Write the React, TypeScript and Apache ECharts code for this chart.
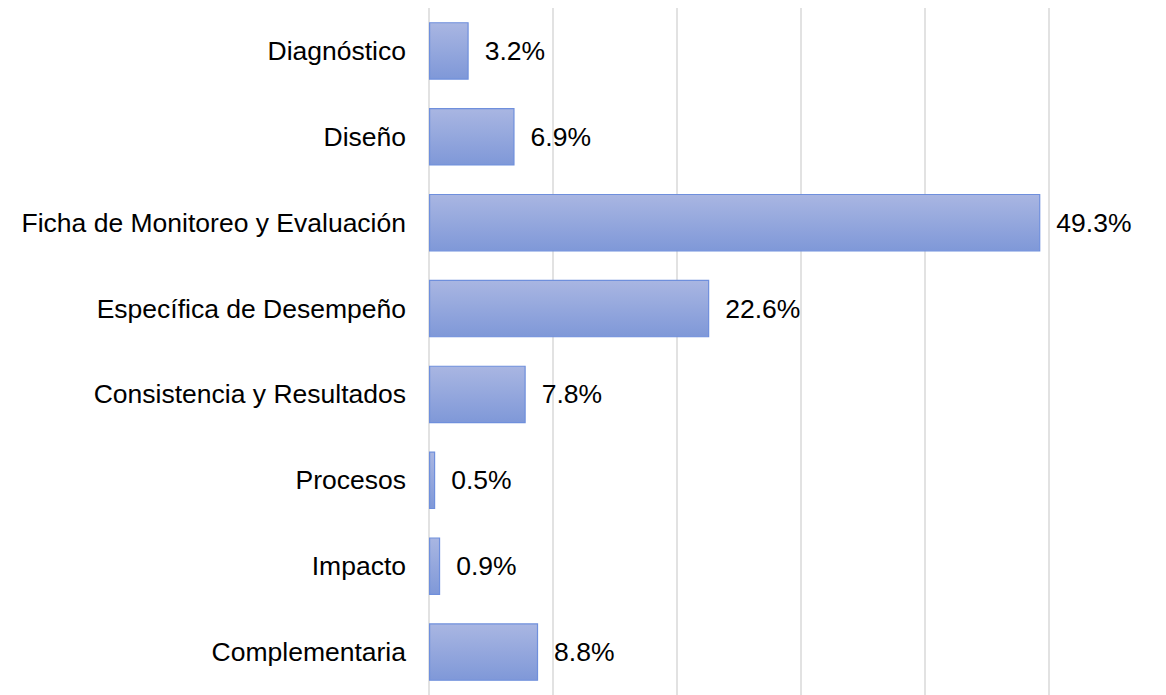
import React, { useEffect, useRef } from "react";
import * as echarts from "echarts";

const categories = [
  "Diagnóstico",
  "Diseño",
  "Ficha de Monitoreo y Evaluación",
  "Específica de Desempeño",
  "Consistencia y Resultados",
  "Procesos",
  "Impacto",
  "Complementaria",
];
const values = [3.2, 6.9, 49.3, 22.6, 7.8, 0.5, 0.9, 8.8];

export default function App() {
  const ref = useRef<HTMLDivElement>(null);
  useEffect(() => {
    const chart = echarts.init(ref.current!, null, { renderer: "svg" });
    chart.setOption({
      animation: false,
      grid: { left: 429, right: 117, top: 8, bottom: -5, containLabel: false },
      xAxis: {
        type: "value",
        min: 0,
        max: 50,
        interval: 10,
        axisLabel: { show: false },
        axisLine: { show: false },
        axisTick: { show: false },
        splitLine: { show: true, lineStyle: { color: "#d9d9d9", width: 1.5 } },
      },
      yAxis: {
        type: "category",
        data: categories,
        inverse: true,
        axisLine: { show: false },
        axisTick: { show: false },
        axisLabel: {
          margin: 23,
          color: "#000",
          fontSize: 26.5,
          fontFamily: "Liberation Sans, Arial, sans-serif",
        },
      },
      series: [
        {
          type: "bar",
          data: values,
          barCategoryGap: "33%",
          itemStyle: {
            color: new echarts.graphic.LinearGradient(0, 0, 0, 1, [
              { offset: 0, color: "#a9b6e2" },
              { offset: 1, color: "#7f98d8" },
            ]),
            borderColor: "#6f8fdc",
            borderWidth: 1.2,
          },
          label: {
            show: true,
            position: "right",
            distance: 16,
            color: "#000",
            fontSize: 26.5,
            fontFamily: "Liberation Sans, Arial, sans-serif",
            formatter: (p: any) => p.value.toFixed(1) + "%",
          },
        },
      ],
    });
    return () => chart.dispose();
  }, []);
  return (
    <div
      ref={ref}
      style={{ position: "fixed", left: 0, top: 0, width: 1166, height: 695, background: "#fff" }}
    />
  );
}
